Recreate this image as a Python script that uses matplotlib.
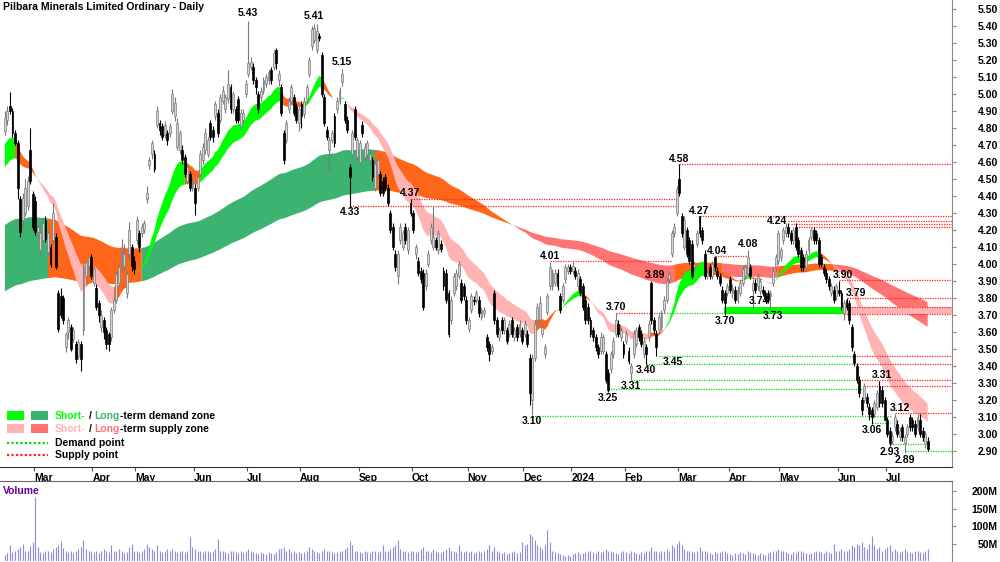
import numpy as np
import pandas as pd
import matplotlib
matplotlib.use("Agg")
from matplotlib import pyplot as plt
from matplotlib.patches import Rectangle
from matplotlib.lines import Line2D

plt.rcParams['font.family'] = ['Liberation Sans', 'DejaVu Sans']

# Pilbara Minerals daily candles, 13 Feb 2023 - 23 Jul 2024 (one row per month)
month_names = ['Mar', 'Apr', 'May', 'Jun', 'Jul', 'Aug', 'Sep', 'Oct', 'Nov', 'Dec',
               '2024', 'Feb', 'Mar', 'Apr', 'May', 'Jun', 'Jul']
month_days = [12, 23, 17, 23, 21, 21, 23, 21, 22, 22, 19, 21, 21, 20, 20, 23, 19, 17]

opens = [
    4.78, 4.85, 4.93, 4.90, 4.77, 4.71, 4.38, 4.26, 4.30, 4.34, 4.67, 4.41,
    4.37, 4.19, 4.08, 4.14, 4.26, 4.07, 4.10, 4.14, 4.16, 3.83, 3.81, 3.80, 3.51, 3.60, 3.63, 3.56, 3.53, 3.46, 3.53, 3.61, 3.93, 3.99, 4.04,
    3.89, 3.86, 3.77, 3.63, 3.67, 3.61, 3.59, 3.57, 3.73, 3.79, 3.89, 3.98, 3.99, 3.83, 4.06, 4.10, 4.02,
    4.14, 4.18, 4.18, 4.20, 4.38, 4.58, 4.65, 4.65, 4.82, 4.83, 4.81, 4.76, 4.77, 4.77, 4.90, 4.87, 4.69, 4.67, 4.67, 4.63, 4.49, 4.53, 4.45,
    4.45, 4.45, 4.53, 4.61, 4.67, 4.65, 4.83, 4.79, 4.87, 4.89, 4.85, 4.96, 4.91, 4.97, 5.04, 4.91, 4.91, 4.97, 4.81, 4.85, 5.00,
    5.12, 5.16, 5.16, 5.08, 5.00, 4.98, 5.02, 5.06, 5.08, 5.14, 5.16, 5.26, 5.08, 5.04, 4.77, 4.73, 4.91, 4.96, 4.98, 4.93, 4.83,
    4.94, 4.88, 4.97, 5.12, 5.28, 5.32, 5.26, 5.34, 5.23, 4.98, 4.79, 4.67, 4.73, 4.87, 4.91, 4.96, 5.07, 4.94, 4.85, 4.57, 4.65, 4.91, 4.63,
    4.60, 4.82, 4.63, 4.65, 4.61, 4.61, 4.45, 4.53, 4.53, 4.49, 4.51, 4.45, 4.30, 4.22, 4.06, 3.93, 4.14, 4.10, 4.22, 4.08, 4.36,
    4.30, 4.06, 4.02, 3.96, 3.95, 3.87, 4.00, 4.14, 4.10, 4.14, 4.08, 4.12, 3.96, 3.95, 3.83, 3.67, 3.83, 3.87, 3.93, 3.89, 3.87, 3.79,
    3.62, 3.73, 3.79, 3.79, 3.79, 3.69, 3.71, 3.57, 3.53, 3.49, 3.83, 3.67, 3.57, 3.67, 3.61, 3.61, 3.59, 3.67, 3.57, 3.63, 3.59, 3.61,
    3.59, 3.59, 3.45, 3.20, 3.45, 3.67, 3.67, 3.59, 3.47, 3.72, 3.87, 3.87, 3.89, 3.95, 3.81, 3.79, 3.91, 3.96, 3.98,
    3.96, 3.96, 3.87, 3.91, 3.87, 3.79, 3.75, 3.67, 3.61, 3.57, 3.51, 3.49, 3.49, 3.47, 3.36, 3.38, 3.47, 3.59, 3.65, 3.57, 3.53,
    3.55, 3.49, 3.36, 3.47, 3.53, 3.63, 3.59, 3.47, 3.51, 3.57, 3.89, 3.67, 3.59, 3.61, 3.63, 3.73, 3.79, 3.91, 4.06, 4.18, 4.30,
    4.50, 4.28, 4.10, 4.20, 4.14, 4.12, 3.98, 4.12, 4.28, 4.20, 4.06, 3.93, 3.98, 3.93, 4.04, 3.96, 3.93, 3.85, 3.83, 3.83,
    3.91, 3.83, 3.85, 3.79, 3.83, 3.89, 3.93, 3.95, 3.98, 3.85, 3.89, 3.87, 3.84, 3.85, 3.83, 3.83, 3.81, 3.89, 3.98, 4.02,
    4.04, 4.14, 4.18, 4.22, 4.18, 4.14, 4.22, 4.14, 4.08, 4.04, 3.98, 4.08, 4.16, 4.20, 4.18, 4.14, 4.04, 3.98, 3.95, 3.91, 3.83, 3.85, 3.81,
    3.85, 3.83, 3.71, 3.79, 3.77, 3.63, 3.47, 3.40, 3.32, 3.20, 3.20, 3.22, 3.16, 3.14, 3.12, 3.16, 3.28, 3.26, 3.20,
    3.08, 3.02, 2.96, 3.04, 3.06, 2.98, 3.04, 2.95, 3.00, 3.10, 3.08, 3.06, 3.04, 3.08, 3.02, 2.94, 2.96,
]
highs = [
    4.90, 4.93, 5.01, 4.92, 4.79, 4.73, 4.40, 4.42, 4.50, 4.52, 4.80, 4.43,
    4.40, 4.23, 4.20, 4.27, 4.28, 4.20, 4.12, 4.36, 4.18, 3.85, 3.86, 3.82, 3.60, 3.69, 3.65, 3.63, 3.55, 3.56, 3.55, 4.00, 4.02, 4.05, 4.06,
    3.99, 3.88, 3.79, 3.73, 3.69, 3.63, 3.60, 3.75, 3.81, 3.96, 4.00, 4.15, 4.12, 3.96, 4.25, 4.12, 4.05,
    4.28, 4.20, 4.24, 4.26, 4.46, 4.63, 4.73, 4.67, 4.93, 4.85, 4.83, 4.84, 4.79, 4.83, 5.03, 4.98, 4.86, 4.79, 4.70, 4.65, 4.59, 4.55, 4.51,
    4.47, 4.53, 4.67, 4.71, 4.80, 4.75, 4.85, 4.81, 4.96, 4.91, 5.00, 5.05, 5.00, 5.14, 5.06, 5.02, 4.93, 4.99, 4.91, 4.91, 5.08,
    5.43, 5.22, 5.18, 5.10, 5.02, 5.04, 5.10, 5.12, 5.15, 5.16, 5.26, 5.27, 5.14, 5.06, 4.79, 4.85, 4.98, 5.06, 5.00, 4.95, 4.93,
    4.96, 4.98, 5.06, 5.22, 5.40, 5.41, 5.41, 5.36, 5.25, 5.00, 4.81, 4.75, 4.79, 4.89, 4.98, 5.04, 5.15, 4.96, 4.87, 4.59, 4.79, 4.93, 4.75,
    4.73, 4.84, 4.71, 4.73, 4.67, 4.63, 4.61, 4.63, 4.55, 4.51, 4.53, 4.47, 4.32, 4.24, 4.08, 4.08, 4.24, 4.20, 4.24, 4.22, 4.38,
    4.32, 4.12, 4.04, 3.98, 3.97, 3.97, 4.08, 4.24, 4.34, 4.16, 4.20, 4.14, 3.98, 3.97, 3.85, 3.81, 3.95, 3.97, 4.02, 3.91, 3.89, 3.81,
    3.69, 3.83, 3.81, 3.85, 3.81, 3.75, 3.75, 3.59, 3.55, 3.53, 3.85, 3.69, 3.63, 3.69, 3.69, 3.63, 3.67, 3.69, 3.63, 3.65, 3.67, 3.63,
    3.67, 3.61, 3.47, 3.47, 3.67, 3.77, 3.81, 3.65, 3.53, 3.83, 4.01, 3.97, 3.97, 3.97, 3.83, 3.89, 4.00, 4.00, 4.00,
    4.01, 3.98, 3.97, 3.93, 3.89, 3.81, 3.77, 3.69, 3.63, 3.59, 3.53, 3.60, 3.59, 3.49, 3.38, 3.49, 3.57, 3.71, 3.67, 3.63, 3.55,
    3.61, 3.51, 3.42, 3.61, 3.63, 3.65, 3.61, 3.57, 3.53, 3.67, 3.90, 3.69, 3.61, 3.71, 3.73, 3.81, 3.92, 3.96, 4.20, 4.24, 4.46,
    4.59, 4.30, 4.28, 4.22, 4.16, 4.14, 4.02, 4.20, 4.28, 4.22, 4.08, 3.97, 4.00, 4.02, 4.05, 3.98, 3.95, 3.87, 3.85, 3.89,
    3.93, 3.88, 3.87, 3.87, 3.91, 3.99, 4.00, 4.08, 4.00, 3.91, 3.91, 3.95, 3.92, 3.87, 3.85, 3.85, 3.85, 3.98, 4.06, 4.20,
    4.10, 4.22, 4.24, 4.24, 4.20, 4.22, 4.24, 4.16, 4.10, 4.06, 4.08, 4.16, 4.22, 4.22, 4.20, 4.16, 4.06, 4.00, 3.97, 3.93, 3.89, 3.87, 3.89,
    3.90, 3.85, 3.79, 3.80, 3.79, 3.65, 3.49, 3.42, 3.34, 3.22, 3.30, 3.24, 3.18, 3.16, 3.20, 3.26, 3.31, 3.28, 3.22,
    3.10, 3.04, 3.01, 3.12, 3.08, 3.04, 3.06, 3.00, 3.06, 3.12, 3.10, 3.08, 3.12, 3.12, 3.04, 3.02, 2.98,
]
lows = [
    4.76, 4.82, 4.88, 4.75, 4.70, 4.38, 4.16, 4.22, 4.28, 4.32, 4.47, 4.20,
    4.17, 4.15, 4.05, 4.12, 4.13, 4.05, 3.98, 4.12, 3.97, 3.60, 3.68, 3.65, 3.48, 3.56, 3.49, 3.54, 3.42, 3.44, 3.37, 3.58, 3.90, 3.96, 3.91,
    3.87, 3.73, 3.66, 3.60, 3.56, 3.50, 3.49, 3.55, 3.71, 3.77, 3.87, 3.96, 3.96, 3.80, 4.03, 3.96, 3.94,
    4.12, 4.07, 4.16, 4.18, 4.36, 4.56, 4.62, 4.54, 4.80, 4.76, 4.73, 4.74, 4.70, 4.75, 4.88, 4.84, 4.67, 4.65, 4.59, 4.51, 4.47, 4.43, 4.43,
    4.29, 4.43, 4.51, 4.59, 4.65, 4.63, 4.73, 4.72, 4.85, 4.75, 4.83, 4.94, 4.89, 4.95, 4.89, 4.89, 4.83, 4.83, 4.79, 4.83, 4.98,
    5.10, 5.14, 5.06, 5.00, 4.89, 4.96, 5.00, 5.04, 5.06, 5.06, 5.14, 5.15, 5.05, 4.87, 4.59, 4.71, 4.89, 4.94, 4.87, 4.83, 4.78,
    4.80, 4.86, 4.95, 5.10, 5.26, 5.30, 5.24, 5.31, 4.98, 4.81, 4.73, 4.54, 4.71, 4.69, 4.89, 4.94, 5.05, 4.83, 4.77, 4.33, 4.63, 4.73, 4.61,
    4.58, 4.75, 4.61, 4.63, 4.59, 4.49, 4.43, 4.51, 4.40, 4.40, 4.43, 4.34, 4.18, 4.08, 3.96, 3.88, 4.12, 4.08, 4.12, 4.06, 4.28,
    4.18, 4.03, 3.93, 3.89, 3.73, 3.85, 3.98, 4.12, 4.08, 4.08, 4.06, 4.07, 3.85, 3.77, 3.57, 3.65, 3.81, 3.85, 3.91, 3.77, 3.79, 3.65,
    3.60, 3.71, 3.76, 3.77, 3.69, 3.67, 3.69, 3.49, 3.43, 3.47, 3.65, 3.57, 3.55, 3.59, 3.59, 3.53, 3.57, 3.57, 3.55, 3.55, 3.57, 3.53,
    3.57, 3.51, 3.17, 3.11, 3.43, 3.65, 3.65, 3.57, 3.45, 3.70, 3.85, 3.85, 3.87, 3.85, 3.71, 3.77, 3.89, 3.94, 3.94,
    3.94, 3.91, 3.85, 3.81, 3.73, 3.65, 3.65, 3.57, 3.55, 3.49, 3.45, 3.47, 3.47, 3.30, 3.25, 3.36, 3.45, 3.57, 3.57, 3.55, 3.45,
    3.53, 3.41, 3.32, 3.45, 3.51, 3.55, 3.51, 3.45, 3.41, 3.55, 3.65, 3.59, 3.46, 3.59, 3.61, 3.71, 3.77, 3.89, 4.04, 4.16, 4.28,
    4.40, 4.16, 4.08, 4.04, 4.00, 3.91, 3.96, 4.10, 4.16, 4.12, 3.91, 3.91, 3.91, 3.91, 3.96, 3.91, 3.87, 3.77, 3.70, 3.81,
    3.83, 3.80, 3.77, 3.77, 3.81, 3.87, 3.91, 3.93, 3.91, 3.74, 3.83, 3.85, 3.82, 3.81, 3.78, 3.77, 3.73, 3.87, 3.96, 4.00,
    4.02, 4.12, 4.16, 4.16, 4.12, 4.12, 4.08, 4.04, 3.96, 3.96, 3.96, 4.06, 4.14, 4.12, 4.12, 3.98, 3.98, 3.93, 3.89, 3.85, 3.81, 3.77, 3.79,
    3.81, 3.73, 3.67, 3.73, 3.65, 3.49, 3.40, 3.30, 3.22, 3.11, 3.18, 3.16, 3.08, 3.06, 3.10, 3.14, 3.16, 3.16, 3.08,
    2.98, 2.93, 2.94, 3.02, 2.98, 2.96, 2.96, 2.89, 2.98, 3.02, 3.02, 2.98, 3.02, 2.98, 2.96, 2.92, 2.90,
]
closes = [
    4.86, 4.90, 4.90, 4.77, 4.71, 4.45, 4.19, 4.39, 4.45, 4.49, 4.49, 4.22,
    4.19, 4.22, 4.18, 4.24, 4.15, 4.18, 4.00, 4.30, 3.98, 3.62, 3.70, 3.67, 3.59, 3.67, 3.50, 3.61, 3.44, 3.54, 3.44, 3.99, 4.01, 4.04, 3.93,
    3.97, 3.75, 3.70, 3.70, 3.60, 3.53, 3.53, 3.73, 3.79, 3.94, 3.98, 4.10, 4.06, 3.94, 4.20, 3.99, 3.97,
    4.26, 4.10, 4.22, 4.24, 4.42, 4.61, 4.71, 4.56, 4.90, 4.79, 4.75, 4.82, 4.73, 4.81, 5.00, 4.95, 4.83, 4.77, 4.61, 4.53, 4.57, 4.45, 4.49,
    4.36, 4.51, 4.65, 4.69, 4.77, 4.73, 4.75, 4.75, 4.94, 4.77, 4.98, 5.02, 4.98, 5.06, 4.91, 5.00, 4.85, 4.85, 4.89, 4.89, 5.06,
    5.18, 5.19, 5.08, 5.04, 4.91, 5.02, 5.08, 5.10, 5.13, 5.08, 5.24, 5.18, 5.12, 4.89, 4.61, 4.83, 4.96, 5.04, 4.89, 4.85, 4.91,
    4.87, 4.96, 5.04, 5.20, 5.38, 5.39, 5.37, 5.33, 5.00, 4.83, 4.75, 4.73, 4.77, 4.71, 4.96, 5.02, 5.12, 4.85, 4.79, 4.51, 4.77, 4.75, 4.73,
    4.71, 4.77, 4.69, 4.71, 4.65, 4.51, 4.59, 4.61, 4.42, 4.42, 4.45, 4.36, 4.20, 4.10, 3.98, 4.06, 4.22, 4.18, 4.14, 4.20, 4.30,
    4.20, 4.10, 3.95, 3.91, 3.75, 3.95, 4.06, 4.22, 4.16, 4.10, 4.18, 4.09, 3.87, 3.79, 3.59, 3.79, 3.93, 3.95, 4.00, 3.79, 3.81, 3.67,
    3.67, 3.81, 3.78, 3.83, 3.71, 3.73, 3.73, 3.51, 3.47, 3.51, 3.67, 3.59, 3.61, 3.61, 3.67, 3.55, 3.65, 3.59, 3.61, 3.57, 3.65, 3.55,
    3.65, 3.53, 3.24, 3.45, 3.65, 3.75, 3.77, 3.63, 3.51, 3.81, 3.98, 3.95, 3.95, 3.87, 3.73, 3.87, 3.98, 3.98, 3.96,
    3.99, 3.93, 3.95, 3.83, 3.75, 3.67, 3.67, 3.59, 3.57, 3.51, 3.47, 3.57, 3.57, 3.32, 3.26, 3.47, 3.55, 3.67, 3.59, 3.61, 3.47,
    3.59, 3.43, 3.40, 3.59, 3.61, 3.57, 3.53, 3.55, 3.47, 3.65, 3.67, 3.61, 3.51, 3.69, 3.71, 3.79, 3.90, 3.94, 4.18, 4.22, 4.44,
    4.42, 4.18, 4.26, 4.06, 4.02, 3.93, 4.00, 4.18, 4.18, 4.14, 3.93, 3.95, 3.93, 4.00, 3.98, 3.93, 3.89, 3.79, 3.77, 3.87,
    3.85, 3.86, 3.79, 3.85, 3.89, 3.97, 3.98, 4.04, 3.93, 3.89, 3.85, 3.93, 3.90, 3.83, 3.80, 3.79, 3.83, 3.96, 4.04, 4.18,
    4.08, 4.20, 4.22, 4.18, 4.14, 4.20, 4.10, 4.06, 3.98, 3.98, 4.06, 4.14, 4.20, 4.14, 4.14, 4.00, 4.00, 3.95, 3.91, 3.87, 3.87, 3.79, 3.87,
    3.83, 3.75, 3.77, 3.75, 3.67, 3.51, 3.42, 3.32, 3.24, 3.14, 3.28, 3.18, 3.12, 3.10, 3.18, 3.24, 3.18, 3.18, 3.08,
    3.00, 2.95, 2.99, 3.10, 3.00, 3.02, 2.98, 2.98, 3.04, 3.04, 3.04, 3.00, 3.10, 3.00, 2.98, 3.00, 2.91,
]
# volume in millions of shares
volumes = [
    18, 22, 45, 25, 30, 35, 40, 48, 30, 28, 42, 55,
    184, 40, 25, 22, 28, 30, 25, 35, 40, 45, 57, 38, 30, 25, 30, 22, 28, 35, 40, 60, 35, 30, 28,
    25, 30, 22, 28, 35, 30, 25, 45, 30, 28, 35, 30, 22, 25, 40, 50, 30,
    30, 25, 28, 35, 50, 40, 35, 30, 45, 28, 25, 30, 35, 28, 35, 30, 25, 28, 30, 25, 28, 69, 40,
    35, 30, 28, 25, 30, 28, 25, 30, 35, 64, 30, 28, 25, 22, 28, 30, 25, 22, 28, 25, 30,
    35, 30, 25, 22, 20, 25, 22, 20, 25, 22, 20, 25, 35, 38, 40, 30, 35, 25, 30, 22, 25,
    22, 25, 30, 40, 35, 28, 25, 22, 30, 35, 30, 28, 25, 22, 25, 28, 30, 35, 40, 57, 45, 30, 28,
    25, 22, 28, 25, 22, 30, 28, 25, 30, 45, 30, 28, 35, 40, 45, 60, 35, 30, 28, 25, 30,
    28, 25, 30, 35, 40, 30, 28, 25, 35, 30, 25, 22, 30, 35, 40, 30, 28, 25, 45, 30, 25, 28,
    25, 28, 22, 25, 30, 25, 28, 35, 45, 30, 40, 28, 25, 22, 25, 20, 22, 25, 28, 22, 25, 55,
    45, 50, 78, 73, 60, 45, 40, 35, 45, 89, 55, 30, 25, 22, 20, 18, 15, 18, 15,
    20, 22, 25, 20, 22, 25, 28, 30, 25, 22, 28, 25, 30, 35, 30, 28, 25, 22, 20, 25, 28,
    25, 22, 30, 25, 22, 20, 25, 22, 28, 30, 40, 30, 28, 25, 30, 28, 35, 30, 45, 40, 50,
    58, 45, 35, 30, 28, 30, 25, 28, 40, 30, 28, 25, 22, 20, 25, 22, 25, 28, 30, 22,
    20, 18, 22, 20, 25, 22, 20, 28, 25, 22, 20, 18, 22, 20, 18, 22, 25, 28, 30, 35,
    30, 28, 25, 22, 20, 25, 22, 28, 30, 25, 22, 20, 22, 25, 28, 30, 25, 22, 28, 25, 22, 50, 30,
    30, 35, 28, 30, 35, 45, 40, 50, 45, 55, 40, 35, 50, 72, 45, 35, 40, 30, 35,
    40, 45, 30, 35, 28, 25, 30, 35, 30, 25, 22, 28, 30, 25, 22, 28, 35,
]

# moving-average values at the first bar (history before Feb 2023)
short_seed = (4.69, 4.55)
long_seed = (4.22, 3.83)

# supply / demand points: (price, first bar, last bar or None = right edge)
supply_lines = [
    (4.59, 266, None), (4.38, 160, 265), (4.34, 136, 265), (4.02, 215, 263),
    (4.285, 274, None), (4.255, 309, None), (4.235, 310, None), (4.215, 312, None),
    (4.05, 280, 293), (3.71, 241, 258),
    (3.905, 329, None), (3.80, 332, None), (3.745, 331, None), (3.705, 331, None),
    (3.46, 335, None), (3.41, 336, None), (3.32, 337, None), (3.28, 339, None),
    (3.125, 351, None),
]
demand_lines = [
    (3.105, 208, 350), (3.265, 238, 338), (3.32, 247, 337), (3.41, 253, 336),
    (3.46, 258, 335), (3.71, 258, 331), (3.065, 342, 349), (2.94, 349, 362),
    (2.90, 355, None),
]
# horizontal zones: (first bar, last bar or None, low, high)
demand_boxes = [(283.6, 331, 3.705, 3.745)]
supply_boxes = [(331, None, 3.705, 3.745)]

label_text = ['5.43', '5.41', '5.15', '4.33', '4.37', '4.01', '3.10', '3.70', '3.25',
              '3.31', '3.40', '3.89', '3.45', '4.58', '4.27', '4.04', '3.70', '4.08',
              '3.74', '3.73', '4.24', '3.90', '3.79', '3.31', '3.06', '3.12', '2.93', '2.89']
label_bar = [96, 122, 133, 136, 160, 215, 208, 241, 238, 247, 253, 255, 257, 266, 274,
             280, 284, 293, 295, 302, 309, 329, 332, 345, 342, 351, 349, 355]
label_price = [5.43, 5.41, 5.15, 4.33, 4.38, 4.01, 3.11, 3.71, 3.25, 3.32, 3.41, 3.90,
               3.46, 4.59, 4.28, 4.05, 3.70, 4.08, 3.74, 3.73, 4.24, 3.90, 3.80, 3.31,
               3.06, 3.12, 2.93, 2.89]
# pixel nudges of each label from its bar (dx, dy up)
label_nudge = [(0, 8), (0, 8), (0, 7), (0, -4), (0, 6), (0, 6), (0, -6), (0, 6), (0, -6),
               (0, -6), (0, -6), (4, 6), (16, -6), (0, 5), (0, 5), (2, 5), (0, -6), (0, 6),
               (6, 7), (2, -6), (-11, 2), (4, 6), (9, 5), (2, 6), (0, -6), (5, 6), (0, -6),
               (0, -7)]

# ---------------------------------------------------------------------------
n = min(len(opens), len(highs), len(lows), len(closes), len(volumes))
o = np.array(opens[:n]); h = np.array(highs[:n]); l = np.array(lows[:n])
c = np.array(closes[:n]); v = np.array(volumes[:n], dtype=float)
x = np.arange(n)
XMIN, XMAX = -1.93, 373.6

GREEN_S, GREEN_L = '#00ff00', '#3cb371'
PINK_S, RED_L = '#ffb3b3', '#ff7373'
ORANGE = '#ff661a'
FONT = dict(fontsize=7.5, fontweight='bold')


def ema(vals, span, seed):
    return pd.Series(np.r_[seed, vals]).ewm(span=span, adjust=False).mean().to_numpy()


def slope(full, k):
    prev = np.r_[np.full(k, full[0]), full[:-k]]
    return (full - prev)[1:]


def zone_state(fast_full, slow_full, k):
    df = slope(fast_full, k)
    ds = slope(slow_full, k)
    fast, slow = fast_full[1:], slow_full[1:]
    state = np.zeros(len(fast), dtype=int)
    state[(fast > slow) & (df > 0) & (ds > 0)] = 1
    state[(fast < slow) & (df < 0) & (ds < 0)] = -1
    return fast, slow, state


def draw_band(ax, fast, slow, state, col_up, col_dn, z):
    lo = np.minimum(fast, slow)
    hi = np.maximum(fast, slow)
    for val, col in [(1, col_up), (-1, col_dn), (0, ORANGE)]:
        m = state == val
        m = m | np.r_[m[1:], False]
        ax.fill_between(x, lo, hi, where=m, color=col, lw=0, zorder=z, interpolate=False)


fig = plt.figure(figsize=(10, 5.62), dpi=100)
ax = fig.add_axes([0, 95 / 562, 0.952, 467 / 562])
axv = fig.add_axes([0, 1 / 562, 0.952, 80 / 562])

# zones
sf, ss, sst = zone_state(ema(c, 20, short_seed[0]), ema(c, 32, short_seed[1]), 3)
lf, ls, lst = zone_state(ema(c, 135, long_seed[0]), ema(c, 230, long_seed[1]), 10)
draw_band(ax, lf, ls, lst, GREEN_L, RED_L, 1)
draw_band(ax, sf, ss, sst, GREEN_S, PINK_S, 2)

for x0, x1, y0, y1 in demand_boxes:
    x1 = XMAX if x1 is None else x1
    ax.add_patch(Rectangle((x0, y0), x1 - x0, y1 - y0, color=GREEN_S, lw=0, zorder=2.5))
for x0, x1, y0, y1 in supply_boxes:
    x1 = XMAX if x1 is None else x1
    ax.add_patch(Rectangle((x0, y0), x1 - x0, y1 - y0, color=PINK_S, lw=0, zorder=2.5))

for lines, col in [(demand_lines, '#00dd00'), (supply_lines, '#ff2020')]:
    for p, a, b in lines:
        b = XMAX if b is None else b
        ax.plot([a, b], [p, p], color=col, lw=0.9, ls=(0, (1, 1)), zorder=3)

# candles
up = c >= o
body = np.maximum(np.abs(c - o), 0.006)
ax.vlines(x[up], l[up], h[up], color='#7a7a7a', lw=0.8, zorder=4)
ax.vlines(x[~up], l[~up], h[~up], color='black', lw=0.8, zorder=4)
ax.bar(x[up], body[up], bottom=np.minimum(o, c)[up], width=0.75, facecolor='#d4d4d4',
       edgecolor='#7a7a7a', lw=0.5, zorder=5)
ax.bar(x[~up], body[~up], bottom=np.minimum(o, c)[~up], width=0.75, facecolor='black',
       edgecolor='black', lw=0.5, zorder=5)

for t, i, p, (dx, dy) in zip(label_text, label_bar, label_price, label_nudge):
    ax.annotate(t, xy=(i, p), xytext=(dx * 0.72, dy * 0.72), textcoords='offset points',
                ha='center', va='center', color='black', zorder=6, **FONT)

ax.set_xlim(XMIN, XMAX)
ax.set_ylim(2.806, 5.553)
ax.yaxis.tick_right()
ax.set_yticks(np.round(np.arange(2.9, 5.501, 0.1), 2))
ax.set_yticklabels([f'{t:.2f}' for t in np.arange(2.9, 5.501, 0.1)], **FONT)
starts = np.cumsum(month_days)[:-1] - 0.5
ax.set_xticks(starts)
ax.set_xticklabels(month_names, ha='left', **FONT)
ax.tick_params(axis='x', direction='out', length=3, width=0.8, color='#555555', pad=1)
ax.tick_params(axis='y', direction='out', length=3, width=0.8, color='#888888', pad=30)
for t in ax.get_yticklabels():
    t.set_ha('right')
for s in ['left', 'top']:
    ax.spines[s].set_visible(False)
ax.spines['bottom'].set_color('#333333')
ax.spines['right'].set_color('#888888')

# volume
axv.vlines(x, 0, v, color='#8c8cda', lw=0.8)
axv.set_xlim(XMIN, XMAX)
axv.set_ylim(0, 230)
axv.yaxis.tick_right()
axv.set_yticks([50, 100, 150, 200])
axv.set_yticklabels(['50M', '100M', '150M', '200M'], **FONT)
axv.set_xticks([])
axv.tick_params(axis='y', direction='out', length=3, width=0.8, color='#888888', pad=30)
for t in axv.get_yticklabels():
    t.set_ha('right')
for s in ['left', 'bottom']:
    axv.spines[s].set_visible(False)
axv.spines['top'].set_color('#666666')
axv.spines['right'].set_color('#888888')
axv.text(0.003, 0.88, 'Volume', transform=axv.transAxes, color='#660099', ha='left',
         va='center', **FONT)

fig.text(0.003, 1 - 7 / 562, 'Pilbara Minerals Limited Ordinary - Daily', ha='left',
         va='center', **FONT)


# legend
def fx(px):
    return px / 1000


def fy(py):
    return 1 - py / 562


for (px0, py0), col in [((7, 411), GREEN_S), ((31, 411), GREEN_L),
                        ((7, 424), PINK_S), ((31, 424), RED_L)]:
    fig.add_artist(Rectangle((fx(px0), fy(py0 + 9)), 17 / 1000, 9 / 562, color=col, lw=0,
                             transform=fig.transFigure))
fig.add_artist(Line2D([fx(7), fx(48)], [fy(443), fy(443)], color='#00dd00', lw=1.6,
                      ls=(0, (1, 1)), transform=fig.transFigure))
fig.add_artist(Line2D([fx(7), fx(48)], [fy(455), fy(455)], color='#ff2020', lw=1.6,
                      ls=(0, (1, 1)), transform=fig.transFigure))


def multicolor(px, py, pieces):
    t = fig.text(fx(px), fy(py), pieces[0][0], color=pieces[0][1], ha='left', va='center',
                 **FONT)
    for s, col, gap in pieces[1:]:
        t = ax.annotate(s, xy=(1, 0), xycoords=t, xytext=(gap, 0), textcoords='offset points',
                        ha='left', va='bottom', color=col, **FONT)


multicolor(55, 416, [('Short-', GREEN_S), ('/', 'black', 2.1), ('Long', GREEN_L, 2.1),
                     ('-term demand zone', 'black', 0)])
multicolor(55, 429, [('Short-', PINK_S), ('/', 'black', 2.1), ('Long', RED_L, 2.1),
                     ('-term supply zone', 'black', 0)])
fig.text(fx(55), fy(443), 'Demand point', ha='left', va='center', **FONT)
fig.text(fx(55), fy(455), 'Supply point', ha='left', va='center', **FONT)

fig.savefig('out.png', dpi=100)
